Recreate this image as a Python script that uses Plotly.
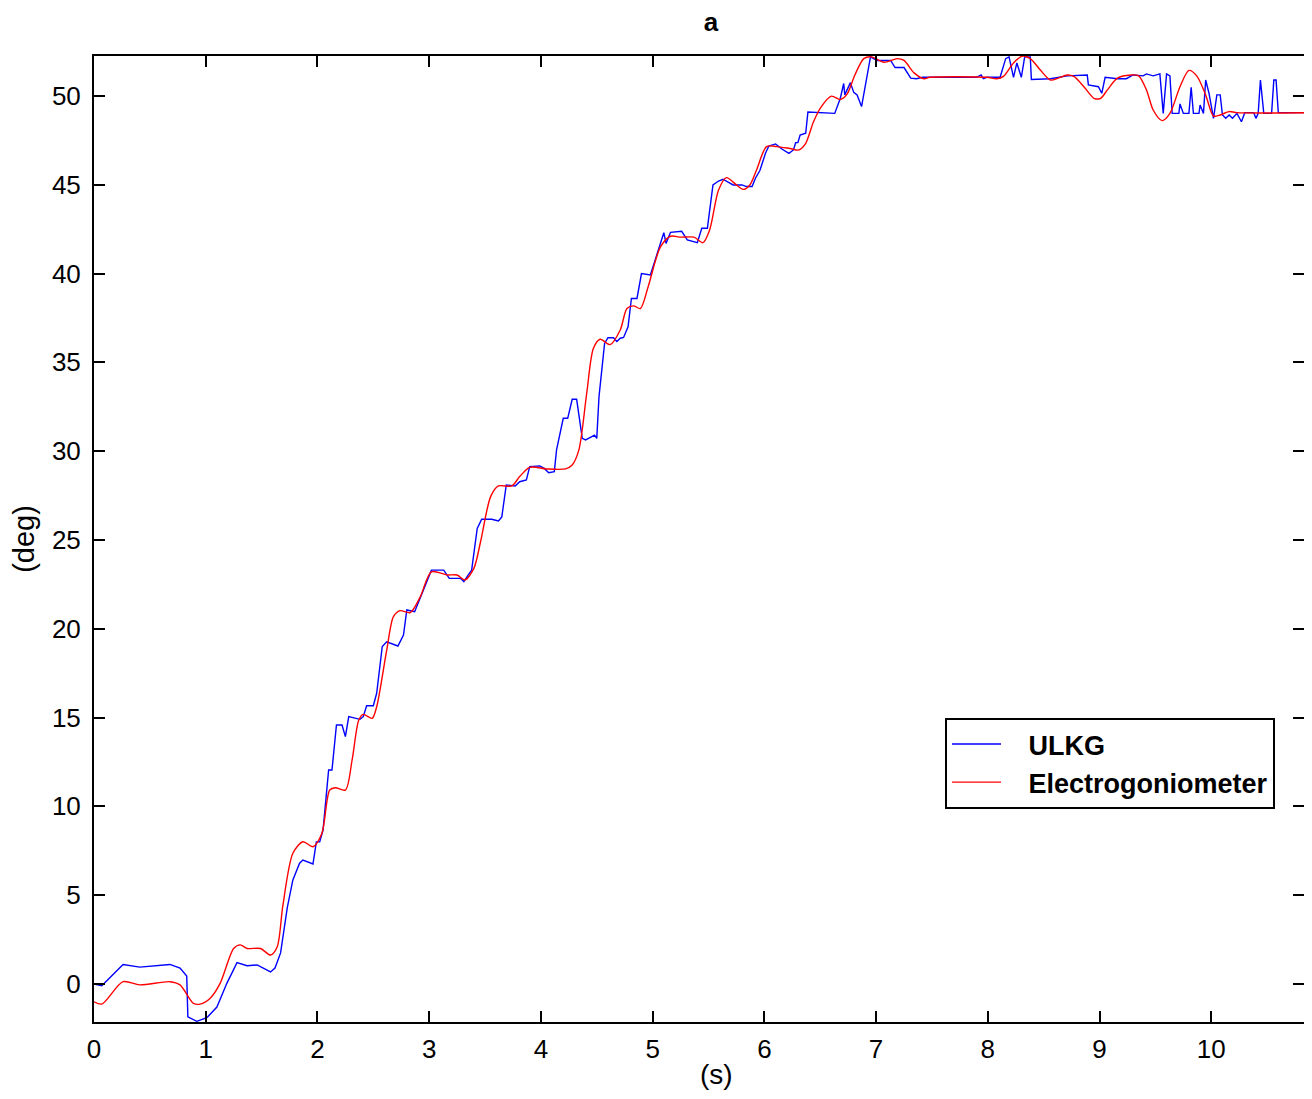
import plotly.graph_objects as go

ulkg_t = [0.00, 0.07, 0.26, 0.41, 0.68, 0.77, 0.83, 0.84, 0.92, 1.01, 1.10, 1.19, 1.28, 1.37, 1.46, 1.51,
          1.58, 1.62, 1.67, 1.73, 1.78, 1.84, 1.87, 1.96, 1.99, 2.02, 2.05, 2.10, 2.13, 2.17, 2.22, 2.25,
          2.28, 2.38, 2.41, 2.44, 2.50, 2.53, 2.58, 2.62, 2.72, 2.77, 2.80, 2.87, 2.95, 3.02, 3.13, 3.18,
          3.28, 3.31, 3.35, 3.38, 3.43, 3.47, 3.56, 3.62, 3.65, 3.69, 3.77, 3.81, 3.87, 3.90, 3.99, 4.03,
          4.07, 4.12, 4.14, 4.20, 4.24, 4.28, 4.32, 4.37, 4.40, 4.44, 4.48, 4.50, 4.52, 4.57, 4.60, 4.65,
          4.68, 4.71, 4.74, 4.78, 4.81, 4.86, 4.90, 4.98, 5.04, 5.10, 5.12, 5.16, 5.26, 5.31, 5.40, 5.44,
          5.49, 5.54, 5.59, 5.63, 5.72, 5.80, 5.84, 5.89, 5.92, 5.96, 6.01, 6.04, 6.10, 6.16, 6.22, 6.26,
          6.28, 6.30, 6.32, 6.37, 6.39, 6.63, 6.68, 6.71, 6.72, 6.77, 6.80, 6.83, 6.87, 6.91, 6.95, 7.01,
          7.13, 7.17, 7.25, 7.31, 7.36, 7.42, 7.90, 7.94, 7.96, 7.99, 8.11, 8.16, 8.19, 8.23, 8.26, 8.30,
          8.33, 8.38, 8.39, 8.56, 8.71, 8.89, 8.90, 8.99, 9.02, 9.05, 9.16, 9.24, 9.30, 9.39, 9.42, 9.48,
          9.54, 9.57, 9.60, 9.63, 9.65, 9.71, 9.72, 9.75, 9.80, 9.82, 9.84, 9.89, 9.90, 9.93, 9.95, 9.98,
          10.02, 10.05, 10.08, 10.10, 10.13, 10.16, 10.19, 10.23, 10.27, 10.30, 10.38, 10.40, 10.42, 10.44,
          10.47, 10.54, 10.56, 10.58, 10.60, 10.90]
ulkg_deg = [0.0, -0.1, 1.1, 0.95, 1.1, 0.9, 0.45, -1.85, -2.1, -1.9, -1.3, 0.05, 1.2, 1.03, 1.07, 0.9,
            0.68, 0.9, 1.75, 4.3, 5.86, 6.8, 6.98, 6.76, 8.0, 8.0, 8.67, 12.05, 12.05, 14.58, 14.58, 13.93,
            15.05, 14.9, 15.05, 15.67, 15.67, 16.37, 19.0, 19.27, 19.03, 19.65, 21.06, 20.96, 22.18, 23.3, 23.3, 22.84,
            22.84, 22.65, 23.03, 23.3, 25.65, 26.17, 26.17, 26.07, 26.3, 28.1, 28.04, 28.28, 28.38, 29.13, 29.17, 29.03,
            28.79, 28.85, 30.07, 31.85, 31.85, 32.92, 32.92, 30.72, 30.63, 30.75, 30.9, 30.72, 33.07, 36.07, 36.39, 36.39,
            36.17, 36.36, 36.4, 37.0, 38.6, 38.6, 40.0, 39.92, 41.1, 42.3, 41.7, 42.32, 42.38, 41.9, 41.74, 42.55,
            42.55, 44.99, 45.21, 45.31, 44.99, 44.99, 44.9, 44.9, 45.37, 45.8, 46.77, 47.18, 47.3, 47.0, 46.77, 46.96,
            47.37, 47.37, 47.8, 47.9, 49.1, 49.02, 49.87, 50.7, 50.06, 50.75, 50.2, 50.06, 49.4, 50.7, 52.2, 52.0,
            52.0, 51.6, 51.6, 51.0, 50.97, 51.05, 51.05, 51.18, 50.97, 51.05, 51.05, 52.1, 52.2, 51.05, 51.86, 51.05,
            52.2, 52.2, 50.93, 50.97, 51.13, 51.18, 50.62, 50.52, 50.15, 51.05, 50.97, 50.97, 51.18, 51.13, 51.24, 51.13,
            51.24, 49.02, 51.24, 51.13, 49.02, 49.02, 49.55, 49.02, 49.02, 50.49, 49.02, 49.02, 49.49, 49.02, 50.9, 50.15,
            48.74, 50.06, 50.06, 48.93, 48.74, 48.93, 48.74, 49.02, 48.55, 49.06, 49.06, 48.74, 49.02, 50.9,
            49.02, 49.02, 50.9, 50.9, 49.06, 49.06]

egm_t = [0.00, 0.07, 0.26, 0.41, 0.68, 0.77, 0.89, 0.95, 1.04, 1.13, 1.25, 1.31, 1.37, 1.49, 1.58, 1.64,
         1.69, 1.78, 1.87, 1.96, 2.04, 2.11, 2.16, 2.25, 2.31, 2.37, 2.41, 2.49, 2.53, 2.62, 2.68, 2.74,
         2.83, 2.92, 3.02, 3.16, 3.25, 3.32, 3.40, 3.46, 3.55, 3.62, 3.74, 3.81, 3.90, 4.05, 4.22, 4.28,
         4.34, 4.41, 4.47, 4.53, 4.62, 4.71, 4.77, 4.83, 4.89, 4.96, 5.07, 5.16, 5.25, 5.37, 5.45, 5.51,
         5.59, 5.66, 5.75, 5.81, 5.87, 5.93, 6.02, 6.11, 6.23, 6.31, 6.37, 6.44, 6.51, 6.60, 6.68, 6.74,
         6.81, 6.89, 6.96, 7.07, 7.19, 7.25, 7.34, 7.43, 7.48, 7.99, 8.08, 8.14, 8.23, 8.31, 8.38, 8.47,
         8.56, 8.63, 8.71, 8.77, 8.86, 8.95, 9.01, 9.07, 9.16, 9.28, 9.35, 9.42, 9.48, 9.56, 9.63, 9.72,
         9.80, 9.87, 9.95, 10.02, 10.08, 10.16, 10.23, 10.90]
egm_deg = [-1.0, -1.13, 0.13, -0.05, 0.13, -0.05, -1.09, -1.13, -0.8, 0.05, 2.0, 2.2, 2.0, 2.0, 1.63, 2.1,
           4.4, 7.36, 8.01, 7.73, 8.49, 10.92, 11.05, 10.92, 12.61, 14.86, 15.18, 14.96, 15.61, 18.8, 20.68, 21.02,
           20.91, 21.8, 23.21, 23.03, 23.03, 22.75, 23.4, 24.9, 27.44, 28.04, 28.04, 28.57, 29.09, 29.0, 29.0, 29.22,
           30.07, 33.26, 35.79, 36.3, 36.0, 36.82, 38.03, 38.18, 38.03, 39.26, 41.5, 42.1, 42.05, 42.05, 41.74, 42.45,
           44.7, 45.4, 44.99, 44.74, 44.99, 45.83, 47.15, 47.15, 47.04, 46.96, 47.33, 48.55, 49.4, 49.99, 49.8, 50.1,
           51.18, 52.1, 52.2, 51.9, 52.1, 52.0, 51.3, 50.97, 51.05, 51.05, 50.97, 51.1, 51.86, 52.25, 52.1, 51.46,
           50.9, 51.0, 51.18, 51.1, 50.52, 49.87, 49.87, 50.34, 51.0, 51.18, 51.13, 50.34, 49.21, 48.61, 49.02, 50.52,
           51.44, 51.13, 50.06, 48.87, 48.93, 49.12, 49.06, 49.06]

x_ticks = list(range(0, 11))
y_ticks = list(range(0, 51, 5))

FONT = "Liberation Sans, Arial, sans-serif"
PAD = "&nbsp;&nbsp;&nbsp;"

fig = go.Figure()
fig.add_trace(go.Scatter(x=ulkg_t, y=ulkg_deg, mode="lines", name=PAD + "<b>ULKG</b>",
                         line=dict(color="#0000ff", width=1.4)))
fig.add_trace(go.Scatter(x=egm_t, y=egm_deg, mode="lines", name=PAD + "<b>Electrogoniometer</b>",
                         line=dict(color="#ff0000", width=1.4, shape="spline", smoothing=0.8)))

axis_common = dict(showgrid=False, zeroline=False, showline=True, linecolor="black", linewidth=2,
                   mirror="allticks", ticks="inside", ticklen=11, tickwidth=1.5, tickcolor="black",
                   automargin=False,
                   tickfont=dict(family=FONT, size=26, color="black"))

W, H = 1296, 1083
fig.update_layout(
    width=W, height=H,
    margin=dict(l=86, r=0, t=48, b=69),
    paper_bgcolor="white", plot_bgcolor="white",
    title=dict(text="<b>a</b>", x=703 / W, xanchor="center", xref="container",
               y=1 - 14 / H, yanchor="middle", yref="container",
               font=dict(family=FONT, size=26, color="black")),
    xaxis=dict(range=[0, 10.83], tickvals=x_ticks, ticklabelstandoff=3, **axis_common),
    yaxis=dict(range=[-2.14, 52.25], tickvals=y_ticks, ticklabelstandoff=6,
               title=dict(text="(deg)", font=dict(family=FONT, size=29, color="black"), standoff=18),
               **axis_common),
    legend=dict(x=(945 - 94) / 1210, y=(1022 - 718) / 966, xanchor="left", yanchor="top",
                bgcolor="white", bordercolor="black", borderwidth=2,
                font=dict(family=FONT, size=27, color="black"),
                tracegroupgap=0, itemwidth=49),
    showlegend=True,
    annotations=[dict(text="(s)", xref="paper", x=(716 - 94) / 1210, xanchor="center",
                      yref="paper", y=-(1074 - 1022) / 966, yanchor="middle",
                      showarrow=False, font=dict(family=FONT, size=28, color="black"))],
)

fig.write_html("out.html")
